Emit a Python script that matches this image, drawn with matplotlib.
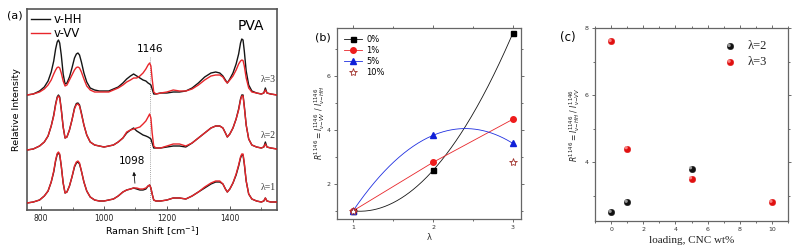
import numpy as np
import matplotlib
matplotlib.use("Agg")
import matplotlib.pyplot as plt
from matplotlib.ticker import MultipleLocator
from matplotlib.transforms import offset_copy
from matplotlib.lines import Line2D

# ---------------- data: panel (a) Raman spectra (relative intensity, a.u.) -------------
wn = [755, 775, 795, 810, 822, 832, 840, 846, 851, 855, 859, 864, 870, 876, 882, 890, 898,
      906, 912, 917, 922, 928, 936, 945, 956, 970, 985, 1000, 1015, 1030, 1045, 1060, 1072,
      1084, 1094, 1104, 1114, 1124, 1133, 1140, 1145, 1149, 1153, 1158, 1165, 1180, 1200,
      1220, 1240, 1260, 1280, 1300, 1320, 1340, 1355, 1368, 1378, 1386, 1392, 1400, 1410,
      1420, 1428, 1434, 1438, 1442, 1446, 1452, 1460, 1470, 1485, 1500, 1508, 1513, 1518,
      1530, 1550]

hh_l3 = [0, 1, 4, 8, 14, 23, 34, 46, 53, 55, 52, 40, 21, 11, 12, 18, 27,
         37, 41, 42, 40, 33, 22, 13, 7, 5, 4, 4, 4, 6, 8, 12, 16,
         19, 21, 19, 17, 15, 14, 12, 11, 10, 6, 1, 1, 2, 2,
         3, 3, 4, 7, 12, 18, 22, 23, 22, 19, 15, 12, 16, 22,
         31, 41, 52, 56, 55, 44, 24, 10, 4, 2, 1, 2, 7, 2,
         1, 0]
vv_l3 = [0, 1, 3, 6, 10, 15, 21, 25, 27.5, 28, 27, 22, 14, 9, 10, 15, 20,
         25, 27.5, 28, 27, 23, 16, 9, 5, 3, 3, 3, 3, 5, 7, 10, 13,
         15, 17, 17, 19, 22, 26, 30, 32, 29, 16, 3, 1, 2, 3,
         5, 4, 4, 6, 10, 15, 19, 20, 20, 18, 14, 12, 15, 19,
         25, 31, 34, 35, 34.5, 29, 17, 7, 3, 2, 1, 2, 5, 2,
         1, 0]
hh_l2 = [1, 2, 5, 9, 15, 25, 36, 47, 54, 56, 54, 42, 24, 13, 14, 21, 31,
         43, 47.5, 48, 46, 38, 26, 16, 9, 6, 5, 4, 5, 6, 9, 13, 18,
         21, 23, 20, 18, 16, 15, 14, 13, 12, 8, 3, 3, 3, 4,
         5, 5, 4, 8, 13, 18, 23, 25, 25, 23, 18, 14, 17, 23,
         32, 42, 52, 56, 56, 45, 26, 12, 6, 4, 3, 4, 9, 4,
         3, 2]
vv_l2 = [1, 2, 5, 9, 15, 25, 35, 46, 53, 55, 53, 41, 24, 13, 14, 21, 31,
         42, 46.5, 47, 45, 37, 26, 16, 9, 6, 5, 4, 5, 6, 9, 13, 19,
         21, 22, 23, 24, 27, 30, 34, 37, 33, 18, 5, 3, 3, 5,
         7, 7, 5, 8, 13, 18, 23, 25, 25, 23, 18, 14, 17, 23,
         32, 41, 51, 55, 55, 44, 26, 12, 6, 4, 3, 4, 7, 4,
         3, 2]
hh_l1 = [0, 1, 3, 7, 12, 21, 31, 42, 48.5, 50, 48, 37, 20, 10, 11, 17, 26,
         36, 40, 41, 39, 32, 21, 12, 6, 3, 2, 2, 3, 4, 7, 11, 13,
         14, 15, 14, 13, 13, 14, 17, 18, 15, 9, 3, 2, 2, 3,
         5, 5, 4, 7, 11, 15, 19, 21, 21, 19, 14, 11, 14, 20,
         28, 37, 45, 48, 48, 39, 22, 9, 4, 2, 1, 2, 5, 2,
         1, 1]
vv_l1 = [0, 1, 3, 7, 12, 21, 32, 43, 49.5, 51, 49, 37, 20, 10, 11, 17, 26,
         37, 41, 42, 40, 32, 21, 12, 6, 3, 2, 2, 3, 4, 7, 11, 13,
         14, 15, 15, 14, 14, 15, 17, 18, 15, 9, 3, 2, 2, 3,
         5, 5, 4, 7, 11, 16, 20, 22, 22, 19, 14, 11, 14, 20,
         29, 38, 46, 49, 49, 40, 22, 9, 4, 2, 1, 2, 5, 2,
         1, 1]
offsets = [115, 59, 7]          # vertical stacking offsets for lambda = 3, 2, 1
lam_labels = ["λ=3", "λ=2", "λ=1"]

# ---------------- data: panel (b) ----------------
lam = [1, 2, 3]
r_0 = [1.0, 2.5, 7.6]
r_1 = [1.0, 2.8, 4.4]
r_5 = [1.0, 3.8, 3.5]
lam_10 = [1, 3]
r_10 = [1.0, 2.8]

# ---------------- data: panel (c) ----------------
load_l2 = [0, 1, 5]
r_l2 = [2.5, 2.8, 3.8]
load_l3 = [0, 1, 5, 10]
r_l3 = [7.6, 4.4, 3.5, 2.8]

# ----------------------------------------------------------------------------------
W, H = 797, 250
fig = plt.figure(figsize=(W / 100, H / 100), dpi=100)
plt.rcParams['font.family'] = ['DejaVu Sans']
serif = ['Liberation Serif', 'DejaVu Serif']
BLK = '#151515'
RED = '#e8262b'
SP = '#555555'

def ax_rect(x0, y0, x1, y1):
    return [x0 / W, 1 - y1 / H, (x1 - x0) / W, (y1 - y0) / H]

# ================= panel (a) =================
axa = fig.add_axes(ax_rect(27, 9, 277, 210))
spec = [(hh_l3, vv_l3), (hh_l2, vv_l2), (hh_l1, vv_l1)]
for i, ((hh, vv), off) in enumerate(zip(spec, offsets)):
    axa.plot(wn, np.array(hh) + off, color=BLK, lw=1.0,
             label='v-HH' if i == 0 else None, zorder=3)
    axa.plot(wn, np.array(vv) + off, color=RED, lw=1.0,
             label='v-VV' if i == 0 else None, zorder=4)
    axa.text(1497, off + 11, lam_labels[i], fontsize=7, family=serif,
             color='#333333', ha='left', va='bottom')
axa.set_xlim(755, 1550)
axa.set_ylim(0, 201)
axa.axvline(1146, ymin=0, ymax=153 / 201, color='#888888', lw=0.6, ls=(0, (1, 1.5)), zorder=2)
axa.text(1146, 156, '1146', fontsize=7.5, ha='center', va='bottom')
axa.text(1088, 44, '1098', fontsize=7.5, ha='center', va='bottom')
axa.annotate('', xy=(1094, 41), xytext=(1099, 24),
             arrowprops=dict(arrowstyle='-|>', color=BLK, lw=0.6, mutation_scale=5))
axa.text(1468, 184, 'PVA', fontsize=10, ha='center', va='center')
axa.legend(loc='upper left', frameon=False, fontsize=8.5, handlelength=1.6,
           handletextpad=0.3, borderaxespad=0.15, labelspacing=0.05,
           borderpad=0.2)
axa.set_yticks([])
axa.xaxis.set_major_locator(MultipleLocator(200))
axa.xaxis.set_minor_locator(MultipleLocator(100))
axa.tick_params(axis='x', which='major', direction='in', length=3, width=0.7,
                labelsize=5.5, pad=3, colors=SP, labelcolor='#222222')
axa.tick_params(axis='x', which='minor', direction='in', length=2, width=0.6, colors=SP)
axa.set_xlabel('Raman Shift [cm$^{-1}$]', fontsize=6.8, labelpad=1)
axa.set_ylabel('Relative Intensity', fontsize=6.8, labelpad=4)
for s in axa.spines.values():
    s.set_color(SP)
    s.set_linewidth(1.2)
fig.text(15 / W, 1 - 16 / H, '(a)', fontsize=8, ha='center', va='center')

# ================= panel (b) =================
axb = fig.add_axes(ax_rect(337, 28, 521, 219))
xs = np.linspace(1, 3, 200)
cb = np.polyfit(lam, r_0, 2)
cbl = np.polyfit(lam, r_5, 2)
axb.plot(xs, np.polyval(cb, xs), color=BLK, lw=0.6)
axb.plot(lam, r_1, color=RED, lw=0.6)
axb.plot(xs, np.polyval(cbl, xs), color='#1f2fe0', lw=0.6)
axb.plot(lam, r_0, ls='none', marker='s', ms=3.6, color='black')
axb.plot(lam, r_1, ls='none', marker='o', ms=4, color='#ee1c1c')
axb.plot(lam, r_5, ls='none', marker='^', ms=4.2, color='#1020d8')
axb.plot(lam_10, r_10, ls='none', marker='*', ms=6, mfc='white', mec='#a0302a', mew=0.6)
hb = [Line2D([], [], color=BLK, lw=0.6, marker='s', ms=3.6, mfc='black', mec='black'),
      Line2D([], [], color=RED, lw=0.6, marker='o', ms=4, mfc='#ee1c1c', mec='#ee1c1c'),
      Line2D([], [], color='#1f2fe0', lw=0.6, marker='^', ms=4.2, mfc='#1020d8', mec='#1020d8'),
      Line2D([], [], ls='none', marker='*', ms=6, mfc='white', mec='#a0302a', mew=0.6)]
axb.legend(hb, ['0%', '1%', '5%', '10%'], loc='upper left', frameon=False,
           fontsize=6, handlelength=2.2, handletextpad=0.5, labelspacing=0.25,
           borderaxespad=0.4)
axb.set_xlim(0.8, 3.1)
axb.set_ylim(0.7, 7.78)
axb.xaxis.set_major_locator(MultipleLocator(1))
axb.xaxis.set_minor_locator(MultipleLocator(0.5))
axb.yaxis.set_major_locator(MultipleLocator(2))
axb.yaxis.set_minor_locator(MultipleLocator(1))
axb.tick_params(which='both', direction='out', colors=SP, labelcolor='#333333',
                labelsize=4.5, width=0.6, top=True, right=True)
axb.tick_params(which='major', length=2.5, pad=2)
axb.tick_params(which='minor', length=1.5)
axb.set_xlabel('λ', fontsize=6, labelpad=2, color='#333333')
axb.set_ylabel(r'$R^{1146}=I^{1146}_{v\mathrm{-}VV}\ /\ I^{1146}_{v\mathrm{-}HH}$',
               fontsize=5.5, labelpad=0, color='#222222')
for s in axb.spines.values():
    s.set_color('#666666')
    s.set_linewidth(0.9)
fig.text(323 / W, 1 - 37 / H, '(b)', fontsize=8, ha='center', va='center')

# ================= panel (c) =================
axc = fig.add_axes(ax_rect(595, 28, 788, 221))

def balls(ax, x, y, color, hl, s=22):
    ax.scatter(x, y, s=s, c=color, edgecolors=color, linewidths=0.3, zorder=3)
    tr = offset_copy(ax.transData, fig=fig, x=-0.7, y=0.7, units='points')
    ax.scatter(x, y, s=s / 4, c=hl, edgecolors='none', zorder=4, transform=tr, alpha=0.8)

balls(axc, load_l2, r_l2, '#111111', '#bbbbbb')
balls(axc, load_l3, r_l3, '#e01010', '#ff9a9a')
balls(axc, [7.4], [7.45], '#111111', '#bbbbbb')
balls(axc, [7.4], [6.98], '#e01010', '#ff9a9a')
axc.text(8.5, 7.45, 'λ=2', fontsize=9, family=serif, va='center', color='#222222')
axc.text(8.5, 6.98, 'λ=3', fontsize=9, family=serif, va='center', color='#222222')
axc.set_xlim(-1, 11)
axc.set_ylim(2.24, 8)
axc.xaxis.set_major_locator(MultipleLocator(2))
axc.xaxis.set_minor_locator(MultipleLocator(1))
axc.yaxis.set_major_locator(MultipleLocator(2))
axc.yaxis.set_minor_locator(MultipleLocator(1))
axc.tick_params(which='both', direction='out', colors=SP, labelcolor='#333333',
                labelsize=4.5, width=0.6, top=True, right=True)
axc.tick_params(which='major', length=2.5, pad=2)
axc.tick_params(which='minor', length=1.5)
axc.set_xlabel('loading, CNC wt%', fontsize=8, family=serif, labelpad=3, color='#222222')
axc.set_ylabel(r'$R^{1146}=I^{1146}_{v\mathrm{-}HH}\ /\ I^{1146}_{v\mathrm{-}VV}$',
               fontsize=5.5, labelpad=2, color='#222222')
for s in axc.spines.values():
    s.set_color('#666666')
    s.set_linewidth(0.9)
fig.text(568 / W, 1 - 37 / H, '(c)', fontsize=8.5, ha='center', va='center')

fig.savefig('out.png', dpi=100)
